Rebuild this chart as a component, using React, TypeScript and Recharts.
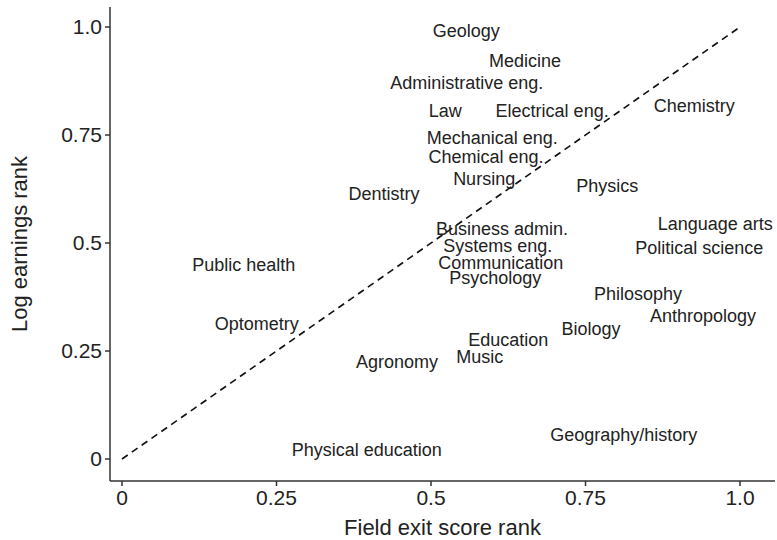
import React from 'react';
import { ScatterChart, Scatter, XAxis, YAxis, ReferenceLine } from 'recharts';

const fields = [
  'Geology', 'Medicine', 'Administrative eng.', 'Law', 'Electrical eng.', 'Chemistry',
  'Mechanical eng.', 'Chemical eng.', 'Nursing', 'Physics', 'Dentistry', 'Business admin.',
  'Systems eng.', 'Language arts', 'Political science', 'Communication', 'Psychology',
  'Public health', 'Philosophy', 'Optometry', 'Anthropology', 'Biology', 'Education',
  'Music', 'Agronomy', 'Geography/history', 'Physical education',
];
const exitScoreRank = [
  0.557, 0.652, 0.558, 0.523, 0.696, 0.926,
  0.599, 0.589, 0.586, 0.785, 0.424, 0.615,
  0.608, 0.960, 0.934, 0.613, 0.604,
  0.197, 0.835, 0.218, 0.940, 0.759, 0.625,
  0.579, 0.445, 0.812, 0.396,
];
const earningsRank = [
  0.991, 0.921, 0.870, 0.806, 0.806, 0.817,
  0.743, 0.699, 0.648, 0.632, 0.613, 0.532,
  0.493, 0.544, 0.488, 0.454, 0.419,
  0.449, 0.382, 0.313, 0.331, 0.301, 0.275,
  0.236, 0.225, 0.056, 0.021,
];
const tickValues = [0, 0.25, 0.5, 0.75, 1];
const tickLabels = ['0', '0.25', '0.5', '0.75', '1.0'];
const xDomain = [-0.0194, 1.0566];
const yDomain = [-0.0509, 1.0463];

const data = fields.map((name, i) => ({ name, x: exitScoreRank[i], y: earningsRank[i] }));

const FONT = '"Liberation Sans", Arial, Helvetica, sans-serif';
const INK = '#222';

const fmt = (v: number) => {
  const i = tickValues.indexOf(v);
  return i >= 0 ? tickLabels[i] : String(v);
};

const LabelShape = (props: any) => {
  const { cx, cy, payload } = props;
  return (
    <text x={cx} y={cy} textAnchor="middle" dominantBaseline="central" fontSize={18}
      fontFamily={FONT} fill={INK}>
      {payload.name}
    </text>
  );
};

export default function App() {
  return (
    <div style={{ position: 'absolute', left: 0, top: 0, width: 777, height: 540, background: '#fff' }}>
      <ScatterChart width={777} height={540} margin={{ top: 7, right: 2, bottom: 0, left: 0 }}
        style={{ fontFamily: FONT }}>
        <XAxis type="number" dataKey="x" domain={xDomain} ticks={tickValues} tickFormatter={fmt}
          allowDataOverflow height={59} tickSize={5} tickMargin={4}
          axisLine={{ stroke: '#333', strokeWidth: 1.5 }} tickLine={{ stroke: '#333', strokeWidth: 1.5 }}
          tick={{ fill: INK, fontSize: 21, fontFamily: FONT }}
          label={{ value: 'Field exit score rank', position: 'insideBottom', offset: 5, fill: INK, fontSize: 22, fontFamily: FONT }} />
        <YAxis type="number" dataKey="y" domain={yDomain} ticks={tickValues} tickFormatter={fmt}
          allowDataOverflow width={110} tickSize={5} tickMargin={3}
          axisLine={{ stroke: '#333', strokeWidth: 1.5 }} tickLine={{ stroke: '#333', strokeWidth: 1.5 }}
          tick={{ fill: INK, fontSize: 21, fontFamily: FONT }}
          label={{ value: 'Log earnings rank', angle: -90, position: 'insideLeft', offset: 19, fill: INK, fontSize: 22, fontFamily: FONT, style: { textAnchor: 'middle' } }} />
        <XAxis xAxisId="top" orientation="top" type="number" domain={xDomain} allowDataOverflow height={0}
          tick={false} tickLine={false} axisLine={{ stroke: '#333', strokeWidth: 1.5 }} />
        <YAxis yAxisId="right" orientation="right" type="number" domain={yDomain} allowDataOverflow width={0}
          tick={false} tickLine={false} axisLine={{ stroke: '#333', strokeWidth: 1.5 }} />
        <ReferenceLine segment={[{ x: 0, y: 0 }, { x: 1, y: 1 }]} stroke="#111" strokeWidth={1.6}
          strokeDasharray="7 5" />
        <Scatter data={data} shape={LabelShape} isAnimationActive={false} />
      </ScatterChart>
    </div>
  );
}
